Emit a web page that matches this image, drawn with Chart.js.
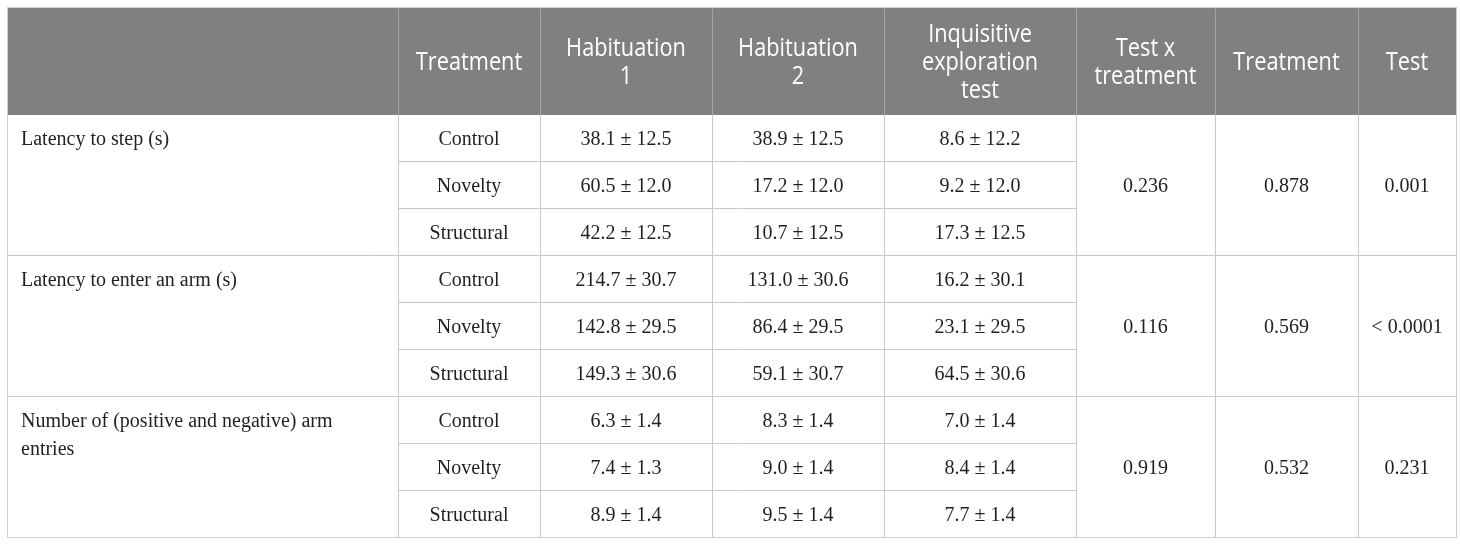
<!DOCTYPE html>
<html>
<head>
<meta charset="utf-8">
<script src="https://cdn.jsdelivr.net/npm/chart.js@4/dist/chart.umd.min.js"></script>
<style>
  html, body { margin: 0; background: #fff; }
  #wrap { width: 1460px; height: 545px; position: relative; }
</style>
</head>
<body>
<div id="wrap"><canvas id="tabela"></canvas></div>
<script>
// conteúdo da tabela
const headers = ['', 'Treatment', ['Habituation', '1'], ['Habituation', '2'], ['Inquisitive', 'exploration', 'test'], ['Test x', 'treatment'], 'Treatment', 'Test'];
const measures = [['Latency to step (s)'], ['Latency to enter an arm (s)'], ['Number of (positive and negative) arm', 'entries']];
const treatments = ['Control', 'Novelty', 'Structural'];

const hab1Mean = [38.1, 60.5, 42.2, 214.7, 142.8, 149.3, 6.3, 7.4, 8.9];
const hab1SE   = [12.5, 12.0, 12.5, 30.7, 29.5, 30.6, 1.4, 1.3, 1.4];
const hab2Mean = [38.9, 17.2, 10.7, 131.0, 86.4, 59.1, 8.3, 9.0, 9.5];
const hab2SE   = [12.5, 12.0, 12.5, 30.6, 29.5, 30.7, 1.4, 1.4, 1.4];
const inqMean  = [8.6, 9.2, 17.3, 16.2, 23.1, 64.5, 7.0, 8.4, 7.7];
const inqSE    = [12.2, 12.0, 12.5, 30.1, 29.5, 30.6, 1.4, 1.4, 1.4];

const pInteraction = ['0.236', '0.116', '0.919'];
const pTreatment   = ['0.878', '0.569', '0.532'];
const pTest        = ['0.001', '< 0.0001', '0.231'];

// layout da grelha (unidades das escalas)
const colEdges = [0, 391, 533, 705, 877, 1069, 1208, 1351, 1449];
const headH = 107;
const rowH = 47;
const nRows = treatments.length * measures.length;
const totalH = headH + rowH * nRows;

const colMid = (c) => (colEdges[c] + colEdges[c + 1]) / 2;
const rowMid = (r) => headH + rowH * (r + 0.5);
const groupMid = (g) => headH + rowH * (g * 3 + 1.5);
const fmt = (m, s) => m.toFixed(1) + ' \u00b1 ' + s.toFixed(1);

const cellSet = (col, texts, rowFn, align) => ({
  data: texts.map((t, i) => ({ x: align === 'left' ? colEdges[col] + 14 : colMid(col), y: rowFn(i) })),
  texts: texts,
  align: align || 'center',
  pointRadius: 0,
  pointHoverRadius: 0
});

const rowsIdx = [...Array(nRows).keys()];

const datasets = [
  cellSet(0, measures, (i) => rowMid(i * 3), 'left'),
  cellSet(1, rowsIdx.map((r) => treatments[r % 3]), rowMid),
  cellSet(2, rowsIdx.map((r) => fmt(hab1Mean[r], hab1SE[r])), rowMid),
  cellSet(3, rowsIdx.map((r) => fmt(hab2Mean[r], hab2SE[r])), rowMid),
  cellSet(4, rowsIdx.map((r) => fmt(inqMean[r], inqSE[r])), rowMid),
  cellSet(5, pInteraction, groupMid),
  cellSet(6, pTreatment, groupMid),
  cellSet(7, pTest, groupMid)
];

const bodyFont = '20px "Liberation Serif", "Times New Roman", serif';
const headFont = '25px "Open Sans", "Noto Sans", sans-serif';

const tablePlugin = {
  id: 'tablePlugin',
  beforeDatasetsDraw(chart) {
    const { ctx, scales: { x, y } } = chart;
    const px = (v) => Math.round(x.getPixelForValue(v)) + 0.5;
    const py = (v) => Math.round(y.getPixelForValue(v)) + 0.5;
    const left = px(colEdges[0]), right = px(colEdges[colEdges.length - 1]);
    const top = py(0), headBottom = py(headH), bottom = py(totalH);

    ctx.save();
    ctx.lineWidth = 1;

    // borda exterior
    ctx.strokeStyle = '#cfcfcf';
    ctx.strokeRect(left, top, right - left, bottom - top);

    // cabeçalho
    ctx.fillStyle = '#808080';
    ctx.fillRect(left + 0.5, top + 0.5, right - left - 1, headBottom - top);
    ctx.strokeStyle = '#a3a3a3';
    for (let c = 1; c < colEdges.length - 1; c++) {
      ctx.beginPath();
      ctx.moveTo(px(colEdges[c]), top + 1);
      ctx.lineTo(px(colEdges[c]), headBottom);
      ctx.stroke();
    }

    // linhas do corpo
    ctx.strokeStyle = '#c8c8c8';
    for (let c = 1; c < colEdges.length - 1; c++) {
      ctx.beginPath();
      ctx.moveTo(px(colEdges[c]), headBottom);
      ctx.lineTo(px(colEdges[c]), bottom);
      ctx.stroke();
    }
    for (let k = 1; k < nRows; k++) {
      const yy = py(headH + rowH * k);
      const full = k % 3 === 0;
      ctx.beginPath();
      ctx.moveTo(full ? left : px(colEdges[1]), yy);
      ctx.lineTo(full ? right : px(colEdges[5]), yy);
      ctx.stroke();
    }

    // texto do cabeçalho
    ctx.fillStyle = '#ffffff';
    ctx.font = headFont;
    ctx.textAlign = 'center';
    ctx.textBaseline = 'alphabetic';
    const hc = (y.getPixelForValue(0) + y.getPixelForValue(headH)) / 2;
    headers.forEach((h, c) => {
      const lines = Array.isArray(h) ? h : [h];
      const cx = x.getPixelForValue(colMid(c));
      lines.forEach((line, i) => {
        const by = hc + 9 + (i - (lines.length - 1) / 2) * 28;
        ctx.save();
        ctx.translate(cx, by);
        ctx.scale(0.87, 1);
        ctx.fillText(line, 0, 0);
        ctx.restore();
      });
    });
    ctx.restore();
  },
  afterDatasetsDraw(chart) {
    const { ctx } = chart;
    ctx.save();
    ctx.fillStyle = '#231f20';
    ctx.font = bodyFont;
    ctx.textBaseline = 'alphabetic';
    chart.data.datasets.forEach((ds, i) => {
      const meta = chart.getDatasetMeta(i);
      ctx.textAlign = ds.align;
      meta.data.forEach((pt, j) => {
        const t = ds.texts[j];
        const lines = Array.isArray(t) ? t : [t];
        lines.forEach((line, k) => {
          ctx.fillText(line, pt.x, pt.y + 7 + k * 28);
        });
      });
    });
    ctx.restore();
  }
};

new Chart(document.getElementById('tabela'), {
  type: 'scatter',
  data: { datasets: datasets },
  options: {
    responsive: true,
    maintainAspectRatio: false,
    animation: false,
    events: [],
    layout: { padding: { left: 7, top: 7, right: 4, bottom: 8 } },
    scales: {
      x: { type: 'linear', display: false, min: 0, max: colEdges[colEdges.length - 1] },
      y: { type: 'linear', display: false, min: 0, max: totalH, reverse: true }
    },
    plugins: {
      legend: { display: false },
      tooltip: { enabled: false }
    }
  },
  plugins: [tablePlugin]
});
</script>
</body>
</html>
